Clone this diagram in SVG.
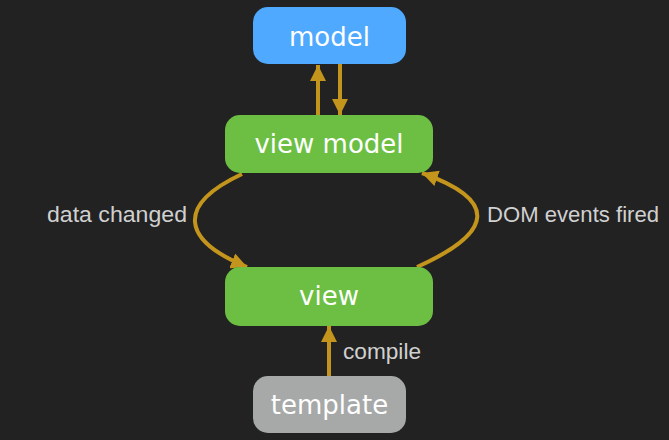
<svg xmlns="http://www.w3.org/2000/svg" width="669" height="440" viewBox="0 0 669 440">
<style>
.node-text{font-family:"DejaVu Sans",sans-serif;font-size:26px;fill:#ffffff;text-anchor:middle}
.label{font-family:"Liberation Sans",Arial,sans-serif;font-size:22px;fill:#d0d0d0}
.conn{fill:none;stroke:#c4951c;stroke-width:4}
</style>
<defs>
<marker id="arrow" markerUnits="userSpaceOnUse" markerWidth="17" markerHeight="16" refX="16" refY="8" orient="auto">
<path d="M0,0 L16,8 L0,16 Z" fill="#c4951c"/>
</marker>
</defs>
<rect width="669" height="440" fill="#222222"/>
<g id="connectors">
<line class="conn" x1="318" y1="115" x2="318" y2="65" marker-end="url(#arrow)"/>
<line class="conn" x1="340" y1="64" x2="340" y2="115" marker-end="url(#arrow)"/>
<path class="conn" d="M242,174 C176,205 181,240 247,267" marker-end="url(#arrow)"/>
<path class="conn" d="M417,267 C495,232 498,200 422,173" marker-end="url(#arrow)"/>
<line class="conn" x1="329" y1="376" x2="329" y2="326" marker-end="url(#arrow)"/>
<text class="label" x="47" y="222" textLength="140" lengthAdjust="spacingAndGlyphs">data changed</text>
<text class="label" x="487" y="222" textLength="172" lengthAdjust="spacingAndGlyphs">DOM events fired</text>
<text class="label" x="343" y="359" textLength="78" lengthAdjust="spacingAndGlyphs">compile</text>
</g>
<g id="model">
<rect x="253" y="7" width="153" height="57" rx="15" fill="#4fa9ff"/>
<text class="node-text" x="329.5" y="46">model</text>
</g>
<g id="view-model">
<rect x="225" y="115" width="208" height="58" rx="15" fill="#6cbf43"/>
<text class="node-text" x="329" y="153">view model</text>
</g>
<g id="view">
<rect x="225" y="267" width="208" height="59" rx="15" fill="#6cbf43"/>
<text class="node-text" x="329" y="305">view</text>
</g>
<g id="template">
<rect x="253" y="376" width="153" height="57" rx="15" fill="#a6a9a8"/>
<text class="node-text" x="329.5" y="414">template</text>
</g>
</svg>
